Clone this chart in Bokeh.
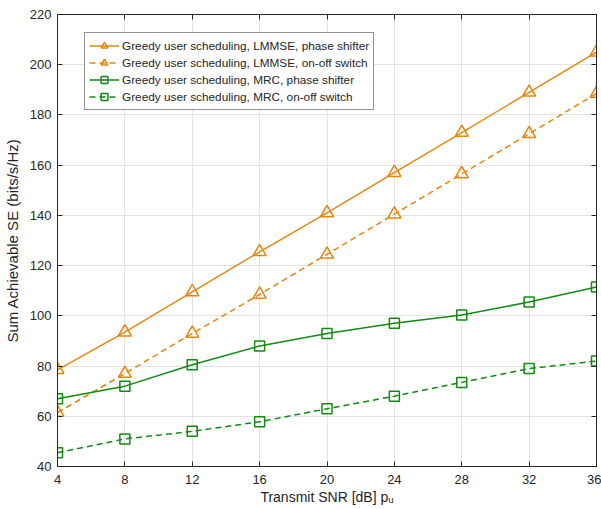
from bokeh.plotting import figure
from bokeh.models import LinearAxis, Legend, LegendItem, Range1d, FixedTicker, CustomLabelingPolicy
from bokeh.embed import file_html
from bokeh.resources import INLINE

snr = [4, 8, 12, 16, 20, 24, 28, 32, 36]
lmmse_ps = [78.5, 93.5, 109.5, 125.5, 141.0, 157.0, 173.0, 189.0, 205.0]
lmmse_oo = [61.5, 77.0, 93.0, 108.5, 124.5, 140.5, 156.5, 172.5, 188.5]
mrc_ps = [67.0, 72.0, 80.5, 88.0, 93.0, 97.0, 100.3, 105.5, 111.5]
mrc_oo = [45.5, 51.0, 54.0, 57.8, 63.0, 68.0, 73.5, 79.0, 82.0]
labels = [
    "Greedy user scheduling, LMMSE, phase shifter",
    "Greedy user scheduling, LMMSE, on-off switch",
    "Greedy user scheduling, MRC, phase shifter",
    "Greedy user scheduling, MRC, on-off switch",
]
xticks = [4, 8, 12, 16, 20, 24, 28, 32, 36]
yticks = [40, 60, 80, 100, 120, 140, 160, 180, 200, 220]

ORANGE = "#E5860E"
GREEN = "#118B11"
AX = "#262626"
FONT = "Liberation Sans"

p = figure(width=601, height=509, output_backend="svg", toolbar_location=None,
           x_range=Range1d(4, 36), y_range=Range1d(40, 220),
           min_border_left=56, min_border_right=5, min_border_top=14, min_border_bottom=43)
p.background_fill_color = "white"
p.border_fill_color = "white"
p.outline_line_color = AX
p.outline_line_width = 1

for ax in [p.xaxis[0], p.yaxis[0]]:
    ax.major_tick_in = 5
    ax.major_tick_out = 0
    ax.minor_tick_in = 0
    ax.minor_tick_out = 0
    ax.axis_line_color = AX
    ax.major_tick_line_color = AX
    ax.major_label_text_color = AX
    ax.major_label_text_font = FONT
    ax.major_label_text_font_size = "13px"
    ax.axis_label_text_font = FONT
    ax.axis_label_text_font_style = "normal"
    ax.axis_label_text_color = AX

p.xaxis[0].ticker = FixedTicker(ticks=xticks)
p.yaxis[0].ticker = FixedTicker(ticks=yticks)
p.xaxis[0].axis_label = "Transmit SNR [dB] p\u1d64"
p.yaxis[0].axis_label = "Sum Achievable SE (bits/s/Hz)"
p.xaxis[0].axis_label_text_font_size = "14px"
p.yaxis[0].axis_label_text_font_size = "15px"
p.xaxis[0].major_label_standoff = 8
p.xaxis[0].axis_label_standoff = 2
p.yaxis[0].major_label_standoff = 6
p.yaxis[0].axis_label_standoff = 6

hide_all = CustomLabelingPolicy(code="""
const n = indices.size;
for (let i = 0; i < n; i++) { indices.unset(i) }
return indices
""")

for loc in ["above", "right"]:
    a = LinearAxis(ticker=FixedTicker(ticks=xticks if loc == "above" else yticks))
    a.major_tick_in = 5
    a.major_tick_out = 0
    a.minor_tick_in = 0
    a.minor_tick_out = 0
    a.major_label_policy = hide_all
    a.major_label_text_font_size = "1px"
    a.major_label_standoff = 0
    a.axis_line_color = AX
    a.major_tick_line_color = AX
    p.add_layout(a, loc)

p.xgrid.ticker = FixedTicker(ticks=xticks)
p.ygrid.ticker = FixedTicker(ticks=yticks)
p.grid.grid_line_color = "#E3E3E3"
p.grid.grid_line_width = 1

lw = 1.5
r1 = p.line(snr, lmmse_ps, color=ORANGE, line_width=lw)
m1 = p.scatter(snr, lmmse_ps, marker="triangle", size=13, line_color=ORANGE, fill_color=None, line_width=lw)
r2 = p.line(snr, lmmse_oo, color=ORANGE, line_width=lw, line_dash="6 4")
m2 = p.scatter(snr, lmmse_oo, marker="triangle", size=13, line_color=ORANGE, fill_color=None, line_width=lw)
r3 = p.line(snr, mrc_ps, color=GREEN, line_width=lw)
m3 = p.scatter(snr, mrc_ps, marker="square", size=10, line_color=GREEN, fill_color=None, line_width=lw)
r4 = p.line(snr, mrc_oo, color=GREEN, line_width=lw, line_dash="6 4")
m4 = p.scatter(snr, mrc_oo, marker="square", size=10, line_color=GREEN, fill_color=None, line_width=lw)

legend = Legend(items=[
    LegendItem(label=labels[0], renderers=[r1, m1]),
    LegendItem(label=labels[1], renderers=[r2, m2]),
    LegendItem(label=labels[2], renderers=[r3, m3]),
    LegendItem(label=labels[3], renderers=[r4, m4]),
], location=(27, 356))
legend.label_text_font = FONT
legend.label_text_font_size = "11.8px"
legend.label_text_color = AX
legend.label_height = 17
legend.glyph_height = 17
legend.glyph_width = 30
legend.label_standoff = 3
legend.spacing = 0
legend.padding = 4
legend.margin = 0
legend.border_line_color = AX
legend.border_line_width = 1
legend.background_fill_color = "white"
legend.background_fill_alpha = 1
p.add_layout(legend, "center")

open("out.html", "w").write(file_html(p, INLINE))
